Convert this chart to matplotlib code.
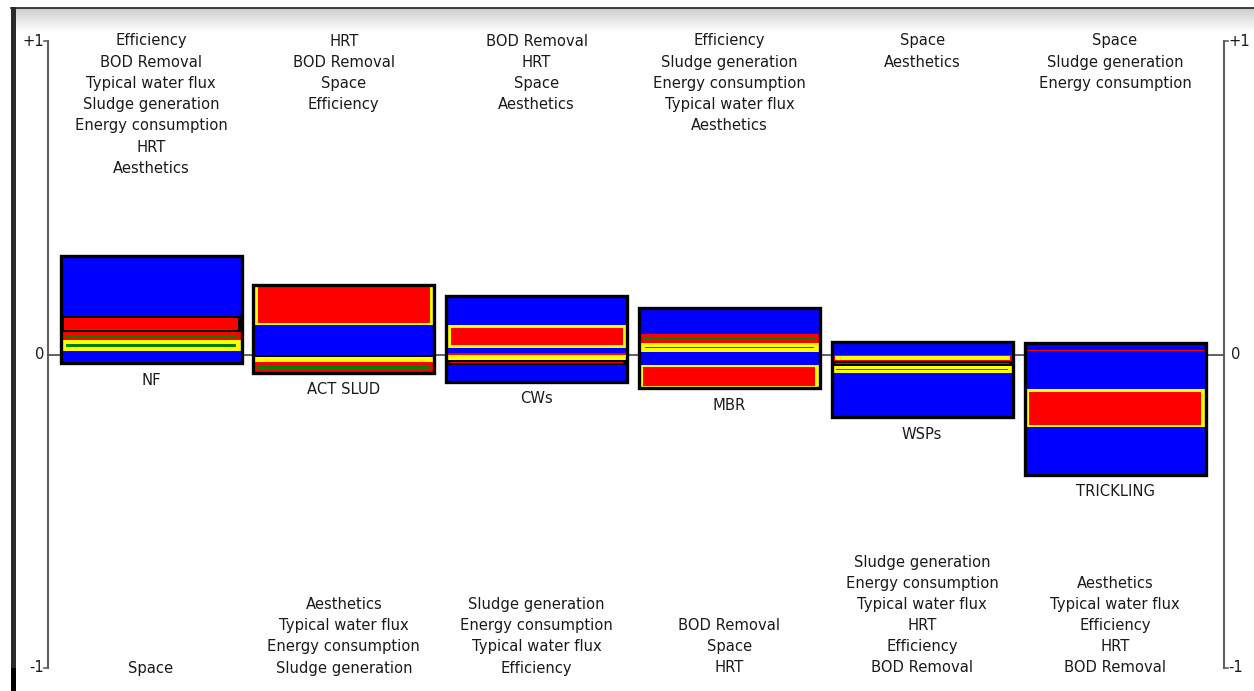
import matplotlib
matplotlib.use("Agg")
import matplotlib.pyplot as plt
from matplotlib.patches import Rectangle
import numpy as np

# ---------------- data ----------------
alternatives = ["NF", "ACT SLUD", "CWs", "MBR", "WSPs", "TRICKLING"]

top_labels = [
    ["Efficiency", "BOD Removal", "Typical water flux", "Sludge generation",
     "Energy consumption", "HRT", "Aesthetics"],
    ["HRT", "BOD Removal", "Space", "Efficiency"],
    ["BOD Removal", "HRT", "Space", "Aesthetics"],
    ["Efficiency", "Sludge generation", "Energy consumption",
     "Typical water flux", "Aesthetics"],
    ["Space", "Aesthetics"],
    ["Space", "Sludge generation", "Energy consumption"],
]
bottom_labels = [
    ["Space"],
    ["Aesthetics", "Typical water flux", "Energy consumption", "Sludge generation"],
    ["Sludge generation", "Energy consumption", "Typical water flux", "Efficiency"],
    ["BOD Removal", "Space", "HRT"],
    ["Sludge generation", "Energy consumption", "Typical water flux", "HRT",
     "Efficiency", "BOD Removal"],
    ["Aesthetics", "Typical water flux", "Efficiency", "HRT", "BOD Removal"],
]

# positive slices, stacked from 0 upwards
nf_pos = [0.011, 0.035, 0.026, 0.051, 0.191]
act_pos = [0.094, 0.128]
cws_pos = [0.005, 0.016, 0.073, 0.093]
mbr_pos = [0.008, 0.029, 0.029, 0.081]
wsp_pos = [0.041]
trk_pos = [0.010, 0.005, 0.021]
# negative slices, stacked from 0 downwards
nf_neg = [0.028]
act_neg = [0.008, 0.016, 0.035]
cws_neg = [0.018, 0.016, 0.053]
mbr_neg = [0.033, 0.075]
wsp_neg = [0.022, 0.015, 0.022, 0.141]
trk_neg = [0.111, 0.121, 0.152]

# slice styles
nf_pos_style = ["B", "GY", "GR", "RK", "B"]
act_pos_style = ["B", "RY"]
cws_pos_style = ["R", "B", "RY", "B"]
mbr_pos_style = ["B", "GY", "GR", "B"]
wsp_pos_style = ["B"]
trk_pos_style = ["B", "R", "B"]
nf_neg_style = ["B"]
act_neg_style = ["K", "RY", "GR"]
cws_neg_style = ["Y", "RK", "B"]
mbr_neg_style = ["B", "RY"]
wsp_neg_style = ["YR", "RK", "RY", "B"]
trk_neg_style = ["B", "RY", "B"]

pos_values = [nf_pos, act_pos, cws_pos, mbr_pos, wsp_pos, trk_pos]
neg_values = [nf_neg, act_neg, cws_neg, mbr_neg, wsp_neg, trk_neg]
pos_styles = [nf_pos_style, act_pos_style, cws_pos_style, mbr_pos_style,
              wsp_pos_style, trk_pos_style]
neg_styles = [nf_neg_style, act_neg_style, cws_neg_style, mbr_neg_style,
              wsp_neg_style, trk_neg_style]

BLUE, RED, YEL, GRN, BLK = "#0000ff", "#ff0000", "#ffff00", "#008000", "#000000"
# fill, edge, edge thickness in px
STYLES = {
    "B": (BLUE, BLUE, 0), "R": (RED, RED, 0), "Y": (YEL, YEL, 0),
    "K": (BLK, BLK, 0),
    "RY": (RED, YEL, 2.5), "RK": (RED, BLK, 2.0), "GR": (GRN, RED, 2.8),
    "GY": (GRN, YEL, 3.8), "YR": (YEL, RED, 1.0),
}

# ---------------- figure ----------------
W, H = 1254, 691
fig = plt.figure(figsize=(W / 100, H / 100), dpi=100)
ax = fig.add_axes([0, 0, 1, 1])
ax.set_axis_off()

y0_px, unit_px = 354.5, 313.5
x0_px, step_px = 151.0, 192.8
ax.set_ylim((y0_px - H) / unit_px, y0_px / unit_px)
ax.set_xlim(-x0_px / step_px, (W - x0_px) / step_px)

px_y = 1.0 / unit_px      # one pixel in data-y
px_x = 1.0 / step_px      # one pixel in data-x

def X(p):
    return (p - x0_px) / step_px

def Y(p):
    return (y0_px - p) / unit_px

# window decoration: top gradient and left dark strip
grad = np.linspace(0.80, 1.0, 64).reshape(-1, 1)
ax.imshow(grad, cmap="gray", vmin=0, vmax=1, aspect="auto",
          extent=(X(16), X(W), Y(32), Y(8)), zorder=0)
ax.plot([X(11), X(W)], [Y(7.5)] * 2, color="#222222", lw=1.2, zorder=1)
ax.add_patch(Rectangle((X(11), Y(H)), 5 * px_x, (H - 7) / unit_px,
                       facecolor="#2a2a2a", edgecolor="none", zorder=1))
ax.add_patch(Rectangle((X(11), Y(H)), 5 * px_x, (H - 668) / unit_px,
                       facecolor="#000000", edgecolor="none", zorder=1))

# axes
xl = X(48)
xr = X(1224)
axis_col = "#606060"
ax.plot([xl, xl], [-1, 1], color=axis_col, lw=1.5, zorder=2)
ax.plot([xr, xr], [-1, 1], color=axis_col, lw=1.5, zorder=2)
for yv in (1, -1):
    ax.plot([xl - 4 * px_x, xl], [yv, yv], color=axis_col, lw=1.2, zorder=2)
    ax.plot([xr, xr + 4 * px_x], [yv, yv], color=axis_col, lw=1.2, zorder=2)
ax.plot([xl, xr], [0, 0], color="#555555", lw=1.3, zorder=2)

tfont = dict(family="DejaVu Sans", fontsize=10.6, color="#1a1a1a")
ax.text(xl - 4 * px_x, 1, "+1", ha="right", va="center", **tfont)
ax.text(xl - 4 * px_x, -1, "-1", ha="right", va="center", **tfont)
ax.text(xr + 4 * px_x, 1, "+1", ha="left", va="center", **tfont)
ax.text(xr + 4 * px_x, -1, "-1", ha="left", va="center", **tfont)
ax.text(xl - 4 * px_x, 0, "0", ha="right", va="center", **tfont)
ax.text(xr + 7 * px_x, 0, "0", ha="left", va="center", **tfont)

bar_w = 181 * px_x
line_px = 21.2

def draw_stack(xc, vals, styles, sign):
    base = 0.0
    for v, st in zip(vals, styles):
        fc, ec, e = STYLES[st]
        lo, hi = base, base + v
        y_bot = lo if sign > 0 else -hi
        ax.add_patch(Rectangle((xc - bar_w / 2, y_bot), bar_w, v,
                               facecolor=ec, edgecolor="none", lw=0,
                               zorder=3))
        if e > 0 and v > 2 * e * px_y:
            ax.add_patch(Rectangle((xc - bar_w / 2 + (e + 2) * px_x,
                                    y_bot + e * px_y),
                                   bar_w - 2 * (e + 2) * px_x,
                                   v - 2 * e * px_y,
                                   facecolor=fc, edgecolor="none", lw=0,
                                   zorder=3.1))
        base = hi
    return base

for i, name in enumerate(alternatives):
    xc = float(i)
    top = draw_stack(xc, pos_values[i], pos_styles[i], +1)
    bot = draw_stack(xc, neg_values[i], neg_styles[i], -1)
    ax.add_patch(Rectangle((xc - bar_w / 2, -bot), bar_w, top + bot,
                           facecolor="none", edgecolor="black", lw=2.4,
                           zorder=4))
    ax.text(xc, -bot - 17 * px_y, name, ha="center", va="center", **tfont)
    for k, lab in enumerate(top_labels[i]):
        ax.text(xc, 1 - k * line_px * px_y, lab, ha="center", va="center",
                **tfont)
    nb = len(bottom_labels[i])
    for k, lab in enumerate(bottom_labels[i]):
        ax.text(xc, -1 + (nb - 1 - k) * line_px * px_y, lab, ha="center",
                va="center", **tfont)

fig.savefig("out.png", dpi=100)
